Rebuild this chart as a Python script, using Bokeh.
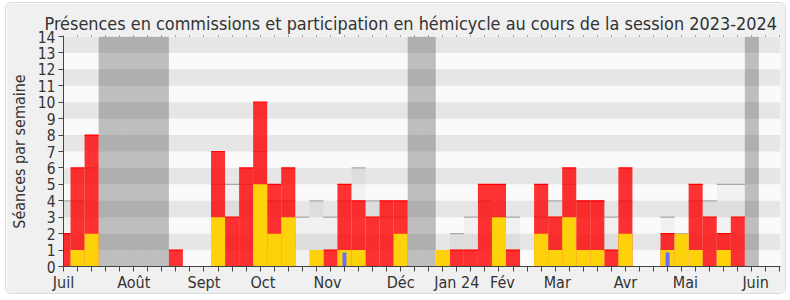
from bokeh.plotting import figure
from bokeh.models import Range1d, FixedTicker, LinearAxis, CustomJSTickFormatter
from bokeh.embed import file_html
from bokeh.resources import INLINE

# ---- data (one value per week, week 0 = first week of July 2023) ----
weeks = list(range(52))
commission = [2, 6, 8, 0, 0, 0, 0, 0, 1, 0, 0, 7, 3, 6, 10, 5, 6, 0, 0, 1,
              5, 4, 3, 4, 4, 0, 0, 0, 1, 1, 5, 5, 1, 0, 5, 3, 6, 4, 4, 1,
              6, 0, 0, 2, 0, 5, 3, 2, 3, 0, 0, 0]
hemicycle = [0, 1, 2, 0, 0, 0, 0, 0, 0, 0, 0, 3, 0, 0, 5, 2, 3, 0, 1, 0,
             1, 1, 0, 0, 2, 0, 0, 1, 0, 0, 0, 3, 0, 0, 2, 1, 3, 1, 1, 0,
             2, 0, 0, 1, 2, 1, 0, 1, 0, 0, 0, 0]
questions = [0] * 52
questions[20] = 0.85
questions[43] = 0.85
mediane = [4, 4, 6, 0, 0, 0, 0, 0, 0, 0, 0, 5, 5, 5, 7, 4, 4, 3, 4, 3,
           4, 6, 4, 3, 3, 0, 0, 0, 2, 3, 4, 3, 3, 0, 3, 4, 5, 4, 4, 3,
           4, 0, 0, 3, 2, 4, 4, 5, 5, 0, 0, 0]
vacances = [3, 4, 5, 6, 7, 25, 26, 49]
month_labels = ["Juil", "Août", "Sept", "Oct", "Nov", "Déc", "Jan 24", "Fév",
                "Mar", "Avr", "Mai", "Juin"]
month_pos = [0, 5, 10, 14.2, 18.8, 24, 28, 31.25, 35.15, 40, 44.27, 49.27]
y_ticks = list(range(0, 15))

FONT = "DejaVu Sans Condensed"
TXT = "#333333"

p = figure(width=781, height=292,
           x_range=Range1d(0, 51.04), y_range=Range1d(0, 14),
           output_backend="svg", toolbar_location=None,
           min_border_left=55, min_border_right=7,
           min_border_top=33, min_border_bottom=29,
           background_fill_color="#fafafa", border_fill_color="#f0f0f0",
           outline_line_color=None,
           title="Présences en commissions et participation en hémicycle au cours de la session 2023-2024")
p.styles = {"margin-left": "5px", "margin-top": "2px",
            "border": "1px solid #dcdcdc", "border-radius": "6px",
            "overflow": "hidden"}

p.title.text_font = FONT
p.title.text_font_size = "17.9px"
p.title.text_font_style = "normal"
p.title.text_color = TXT
p.title.align = "left"
p.title.offset = -19
p.title.standoff = 4

# grid bands
p.xgrid.grid_line_color = None
p.ygrid.grid_line_color = None
p.ygrid.band_fill_color = "#e6e6e6"
p.ygrid.band_fill_alpha = 1.0

# y axis
p.yaxis.ticker = FixedTicker(ticks=y_ticks)
p.yaxis.axis_label = "Séances par semaine"
p.yaxis.axis_label_text_font = FONT
p.yaxis.axis_label_text_font_size = "16px"
p.yaxis.axis_label_text_font_style = "normal"
p.yaxis.axis_label_text_color = TXT
p.yaxis.axis_label_standoff = 6
p.yaxis.major_label_text_font = FONT
p.yaxis.major_label_text_font_size = "15.5px"
p.yaxis.major_label_text_color = TXT
p.yaxis.major_label_standoff = 3
p.yaxis.major_tick_out = 5
p.yaxis.major_tick_in = 0
p.yaxis.minor_tick_out = 0
p.yaxis.axis_line_color = "#444444"
p.yaxis.major_tick_line_color = "#444444"

# x axis
p.xaxis.ticker = FixedTicker(ticks=month_pos, minor_ticks=weeks)
p.xaxis.formatter = CustomJSTickFormatter(args=dict(labels=month_labels),
                                          code="return labels[index];")
p.xaxis.major_tick_out = 0
p.xaxis.major_tick_in = 0
p.xaxis.minor_tick_out = 5
p.xaxis.minor_tick_in = 0
p.xaxis.major_label_standoff = 1
p.xaxis.major_label_text_font = FONT
p.xaxis.major_label_text_font_size = "16px"
p.xaxis.major_label_text_color = TXT
p.xaxis.axis_line_color = "#444444"
p.xaxis.minor_tick_line_color = "#444444"

top = LinearAxis(ticker=FixedTicker(ticks=[], minor_ticks=weeks),
                 major_label_text_font_size="0px", major_label_standoff=0,
                 axis_line_color=None, major_tick_out=0, major_tick_in=0,
                 minor_tick_out=1, minor_tick_in=0,
                 minor_tick_line_color="#555555")
p.add_layout(top, "above")

# vacation bands
p.vbar(x=vacances, top=[14] * len(vacances), bottom=0, width=1,
       fill_color="black", fill_alpha=0.24, line_color=None)

# median (light bars with grey top)
p.vbar(x=weeks, top=mediane, bottom=0, width=1,
       fill_color="black", fill_alpha=0.035, line_color=None)
mx = [w for w, m in zip(weeks, mediane) if m > 0]
my = [m for m in mediane if m > 0]
p.segment(x0=[w - 0.5 for w in mx], x1=[w + 0.5 for w in mx], y0=my, y1=my,
          line_color="#a8a8a8", line_width=1.2)

# commission (red)
p.vbar(x=weeks, top=commission, bottom=0, width=1,
       fill_color="#ff0000", fill_alpha=0.8, line_color=None)
cx = [w for w, c in zip(weeks, commission) if c > 0]
cy = [c for c in commission if c > 0]
p.segment(x0=[w - 0.5 for w in cx], x1=[w + 0.5 for w in cx], y0=cy, y1=cy,
          line_color="#ff0000", line_width=1.2)

# hemicycle (yellow)
p.vbar(x=weeks, top=hemicycle, bottom=0, width=1,
       fill_color="#fdd20b", line_color=None)

# questions (blue)
p.vbar(x=weeks, top=questions, bottom=0, width=0.28,
       fill_color="#6b6bff", line_color=None)

open("out.html", "w").write(file_html(p, INLINE))
